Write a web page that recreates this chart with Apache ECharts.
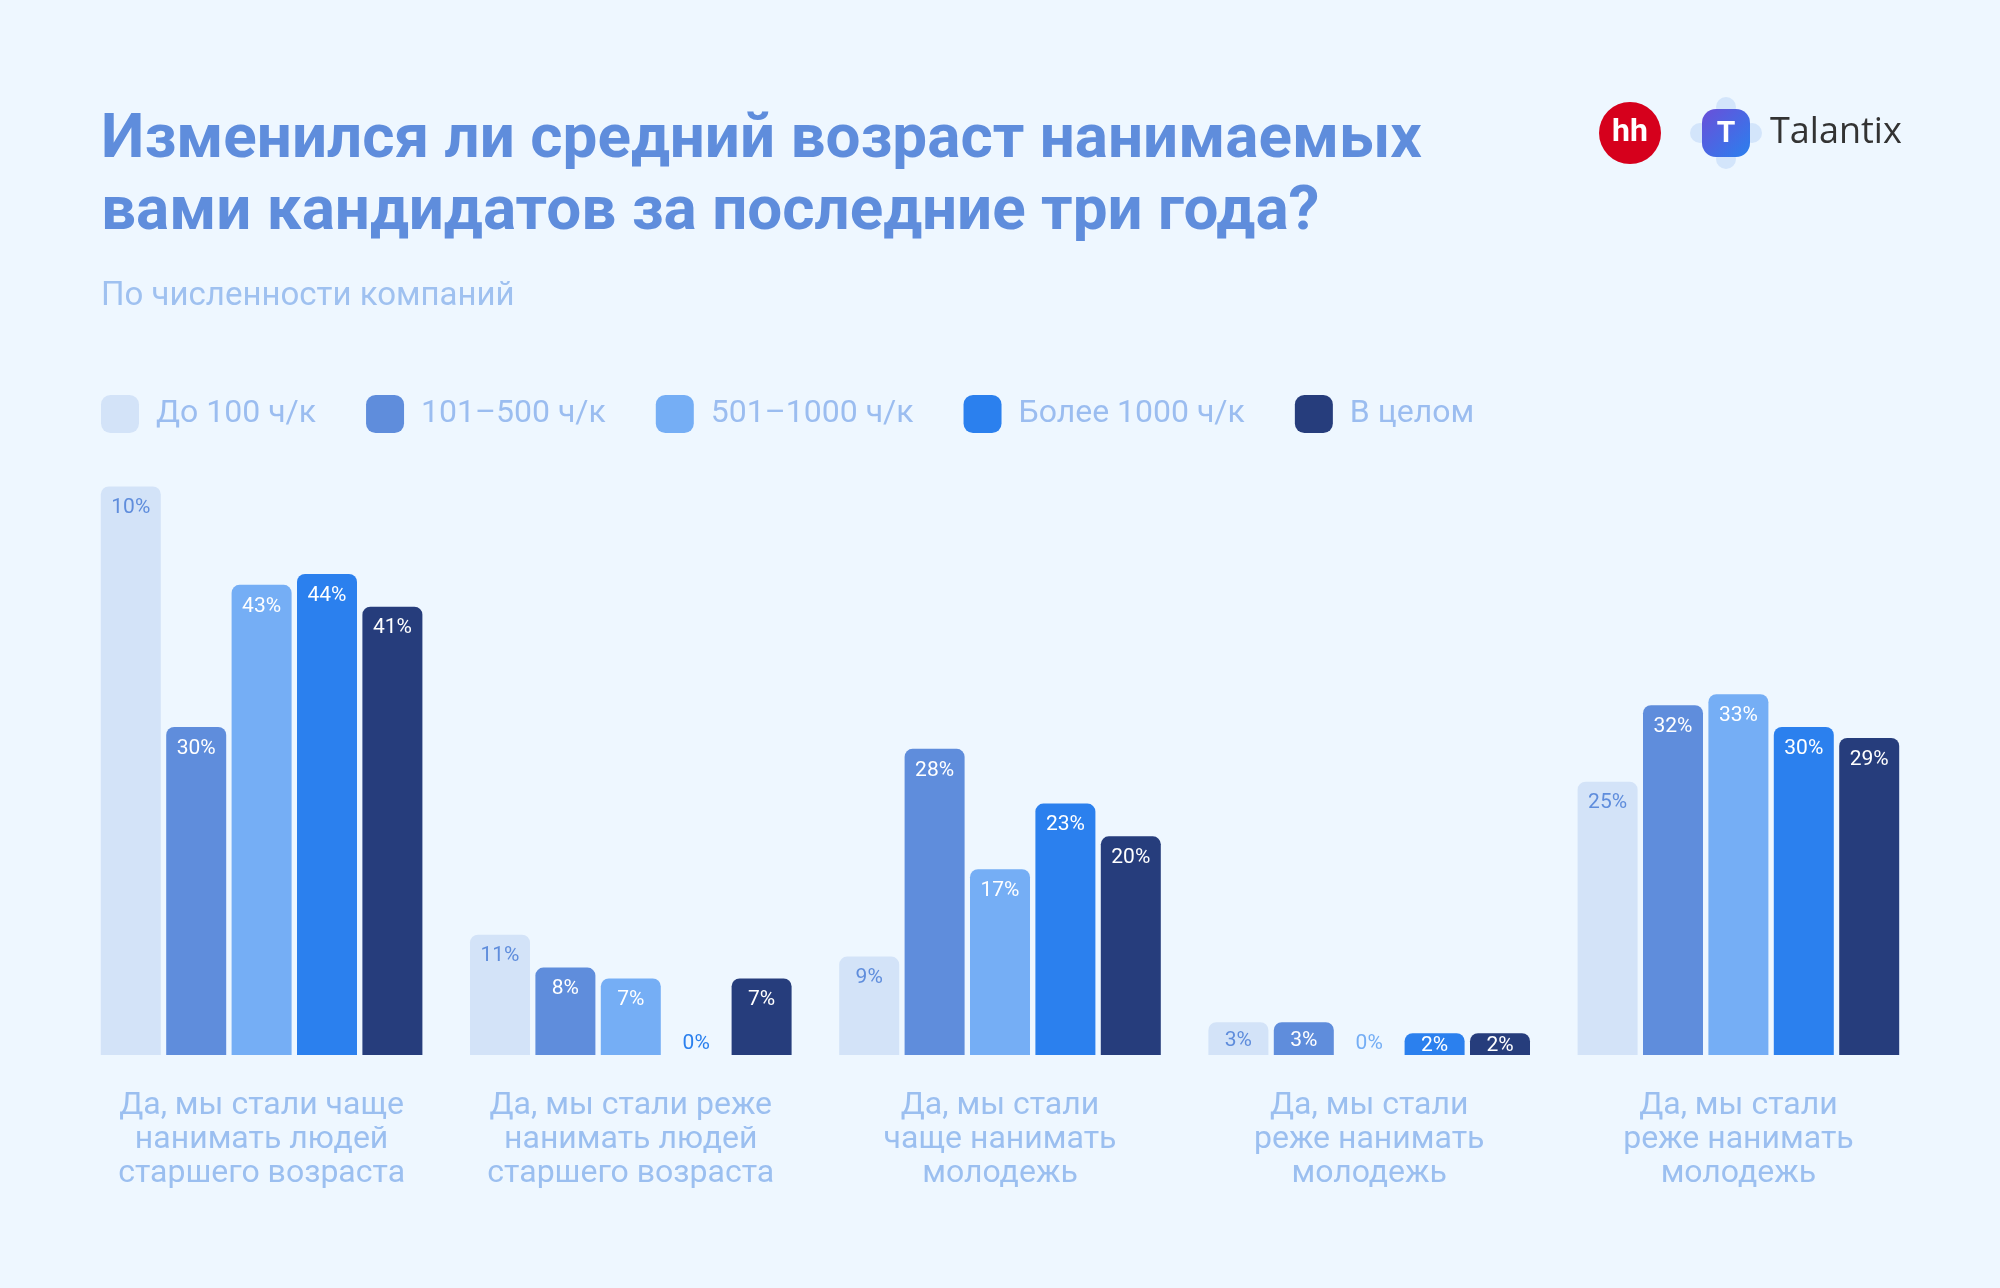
<!DOCTYPE html>
<html>
<head>
<meta charset="utf-8">
<script src="https://cdn.jsdelivr.net/npm/echarts@6/dist/echarts.min.js"></script>
<style>
html,body{margin:0;padding:0;background:#eef7ff;}
#chart{width:2000px;height:1288px;}
</style>
</head>
<body>
<div id="chart"></div>
<script>
const categories = [
  'Да, мы стали чаще\nнанимать людей\nстаршего возраста',
  'Да, мы стали реже\nнанимать людей\nстаршего возраста',
  'Да, мы стали\nчаще нанимать\nмолодежь',
  'Да, мы стали\nреже нанимать\nмолодежь',
  'Да, мы стали\nреже нанимать\nмолодежь'
];
const seriesNames = ['До 100 ч/к', '101–500 ч/к', '501–1000 ч/к', 'Более 1000 ч/к', 'В целом'];
const valsUpTo100 = [52, 11, 9, 3, 25];
const labelsUpTo100 = ['10%', '11%', '9%', '3%', '25%'];
const vals101to500 = [30, 8, 28, 3, 32];
const vals501to1000 = [43, 7, 17, 0, 33];
const valsOver1000 = [44, 0, 23, 2, 30];
const valsOverall = [41, 7, 20, 2, 29];

const allVals = [valsUpTo100, vals101to500, vals501to1000, valsOver1000, valsOverall];
const allLabels = [labelsUpTo100, null, null, null, null];
const colors = ['#d3e3f8', '#5f8ddc', '#75aef5', '#2b80ee', '#263d7c'];
const labelColors = ['#5f8ddc', '#ffffff', '#ffffff', '#ffffff', '#ffffff'];

const chart = echarts.init(document.getElementById('chart'));

const series = allVals.map((vals, si) => ({
  name: seriesNames[si],
  type: 'bar',
  barWidth: 60,
  barGap: '9%',
  itemStyle: { color: colors[si], borderRadius: [8, 8, 0, 0] },
  label: {
    show: true,
    position: 'insideTop',
    distance: 11,
    fontFamily: 'Roboto',
    fontSize: 21,
    color: labelColors[si],
    formatter: p => allLabels[si] ? allLabels[si][p.dataIndex] : p.value + '%'
  },
  data: vals.map(v => {
    if (v === 0) return { value: v, label: { position: 'top', distance: 1, color: colors[si] } };
    if (v < 4) return { value: v, label: { position: 'inside', offset: [0, 2] } };
    return v;
  })
}));

chart.setOption({
  backgroundColor: '#eef7ff',
  animation: false,
  color: colors,
  title: [
    {
      text: 'Изменился ли средний возраст нанимаемых\nвами кандидатов за последние три года?',
      left: 101, top: 105, padding: 0,
      textStyle: { fontFamily: 'Roboto', fontWeight: 'bold', fontSize: 62, lineHeight: 72, color: '#5f8ddc' }
    },
    {
      text: 'По численности компаний',
      left: 101, top: 277, padding: 0,
      textStyle: { fontFamily: 'Roboto', fontWeight: 'normal', fontSize: 33, lineHeight: 40, color: '#9fc1f0' }
    }
  ],
  legend: {
    left: 101, top: 395, padding: 0,
    itemWidth: 38, itemHeight: 38, itemGap: 50,
    icon: 'roundRect',
    textStyle: { fontFamily: 'Roboto', fontSize: 32, color: '#9bbdf0', padding: [0, 0, 0, 12] },
    data: seriesNames
  },
  grid: { left: 77, right: 77, top: 399, bottom: 233, containLabel: false },
  xAxis: {
    type: 'category',
    data: categories,
    axisLine: { show: false },
    axisTick: { show: false },
    axisLabel: { interval: 0, margin: 34, fontFamily: 'Roboto', fontSize: 32, lineHeight: 34, color: '#9bbff0', align: 'center' }
  },
  yAxis: {
    type: 'value', min: 0, max: 60,
    show: false,
    splitLine: { show: false }
  },
  series: series,
  graphic: [
    { type: 'circle', shape: { cx: 1630, cy: 133, r: 31 }, style: { fill: '#d6001c' } },
    { type: 'text', x: 1630, y: 133, style: { text: 'hh', fill: '#ffffff', font: 'bold 32px Roboto', textAlign: 'center', textVerticalAlign: 'middle' } },
    { type: 'circle', shape: { cx: 1726, cy: 107, r: 10 }, style: { fill: '#d3e5fb' } },
    { type: 'circle', shape: { cx: 1726, cy: 159, r: 10 }, style: { fill: '#d3e5fb' } },
    { type: 'circle', shape: { cx: 1700, cy: 133, r: 10 }, style: { fill: '#d3e5fb' } },
    { type: 'circle', shape: { cx: 1752, cy: 133, r: 10 }, style: { fill: '#d3e5fb' } },
    { type: 'rect', shape: { x: 1702, y: 109, width: 48, height: 48, r: 14 },
      style: { fill: new echarts.graphic.LinearGradient(0, 0, 1, 1, [{ offset: 0, color: '#6a4fd9' }, { offset: 1, color: '#2a80ee' }]) } },
    { type: 'text', x: 1726, y: 134, style: { text: 'T', fill: '#ffffff', font: 'bold 30px Roboto', textAlign: 'center', textVerticalAlign: 'middle' } },
    { type: 'text', x: 1770, y: 133, style: { text: 'Talantix', fill: '#333333', font: '36px "Open Sans"', textAlign: 'left', textVerticalAlign: 'middle' } }
  ]
});
</script>
</body>
</html>
